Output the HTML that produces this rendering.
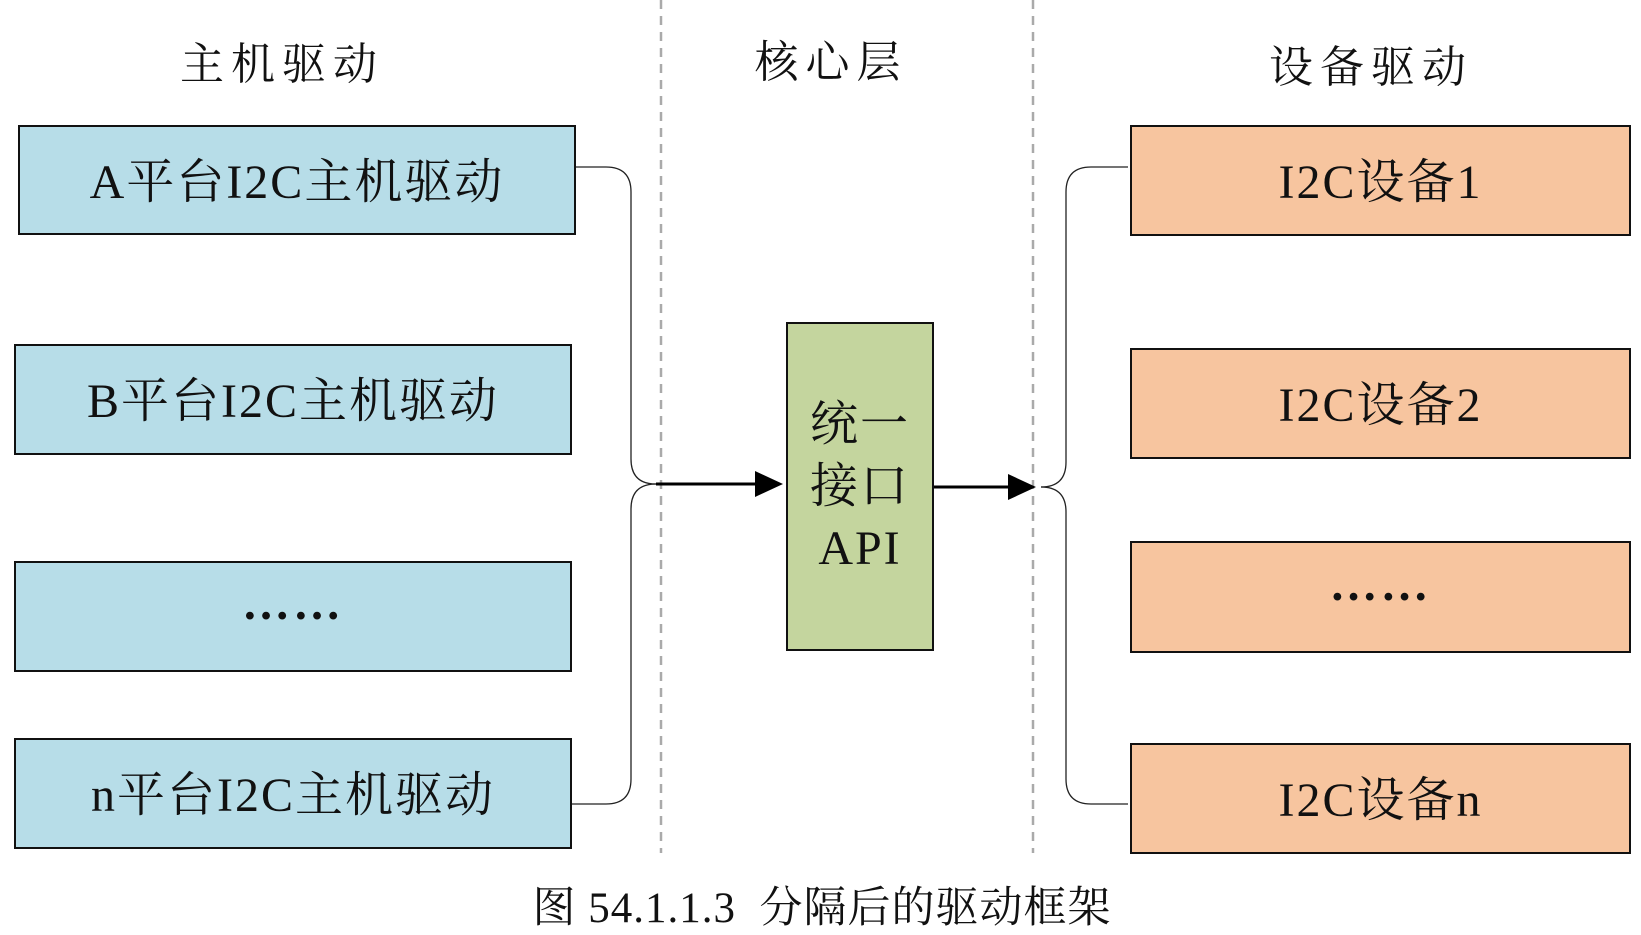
<!DOCTYPE html>
<html><head><meta charset="utf-8"><style>
body{margin:0;width:1641px;height:932px;background:#fff;overflow:hidden;position:relative;font-family:"Liberation Serif","Noto Serif CJK SC",serif}
.b{position:absolute;border:2.5px solid #111;box-sizing:border-box;display:flex;align-items:center;justify-content:center;font-size:48px;color:#111;letter-spacing:2px;padding-bottom:6px}
.l{background:#b7dde8}.r{background:#f7c59f}
.d{font-weight:bold;letter-spacing:3px;padding-bottom:26px}
.t{position:absolute;font-size:44px;transform:translateX(-50%);white-space:nowrap;color:#111;letter-spacing:7px}
</style></head><body>
<svg width="1641" height="932" style="position:absolute;left:0;top:0">
<line x1="661" y1="0" x2="661" y2="853" stroke="#aaa" stroke-width="2.5" stroke-dasharray="9,7"/>
<line x1="1033" y1="0" x2="1033" y2="853" stroke="#aaa" stroke-width="2.5" stroke-dasharray="9,7"/>
<g fill="none" stroke="#222" stroke-width="1.3">
<path d="M572 167 H606 Q631 167 631 192 V459 Q631 484 656 484"/>
<path d="M572 804 H606 Q631 804 631 779 V509 Q631 484 656 484"/>
<path d="M1128 167 H1091 Q1066 167 1066 192 V462 Q1066 487 1041 487"/>
<path d="M1128 804 H1091 Q1066 804 1066 779 V512 Q1066 487 1041 487"/>
</g>
<line x1="656" y1="484" x2="760" y2="484" stroke="#000" stroke-width="3"/>
<polygon points="783,484 755,471 755,497" fill="#000"/>
<line x1="934" y1="487" x2="1012" y2="487" stroke="#000" stroke-width="3"/>
<polygon points="1036,487 1008,474 1008,500" fill="#000"/>
</svg>
<div class="t" style="left:282px;top:28px">主机驱动</div>
<div class="t" style="left:831px;top:26px">核心层</div>
<div class="t" style="left:1371px;top:31px">设备驱动</div>
<div class="b l" style="left:18px;top:125px;width:558px;height:110px">A平台I2C主机驱动</div>
<div class="b l" style="left:14px;top:344px;width:558px;height:111px">B平台I2C主机驱动</div>
<div class="b l d" style="left:14px;top:561px;width:558px;height:111px">……</div>
<div class="b l" style="left:14px;top:738px;width:558px;height:111px">n平台I2C主机驱动</div>
<div class="b r" style="left:1130px;top:125px;width:501px;height:111px">I2C设备1</div>
<div class="b r" style="left:1130px;top:348px;width:501px;height:111px">I2C设备2</div>
<div class="b r d" style="left:1130px;top:541px;width:501px;height:112px">……</div>
<div class="b r" style="left:1130px;top:743px;width:501px;height:111px">I2C设备n</div>
<div class="b" style="left:786px;top:322px;width:148px;height:329px;background:#c4d59e;line-height:62px;text-align:center;padding-bottom:0">统一<br>接口<br>API</div>
<div class="t" style="left:822px;top:874px;font-size:43px;letter-spacing:1px">图 54.1.1.3&nbsp; 分隔后的驱动框架</div>
</body></html>
